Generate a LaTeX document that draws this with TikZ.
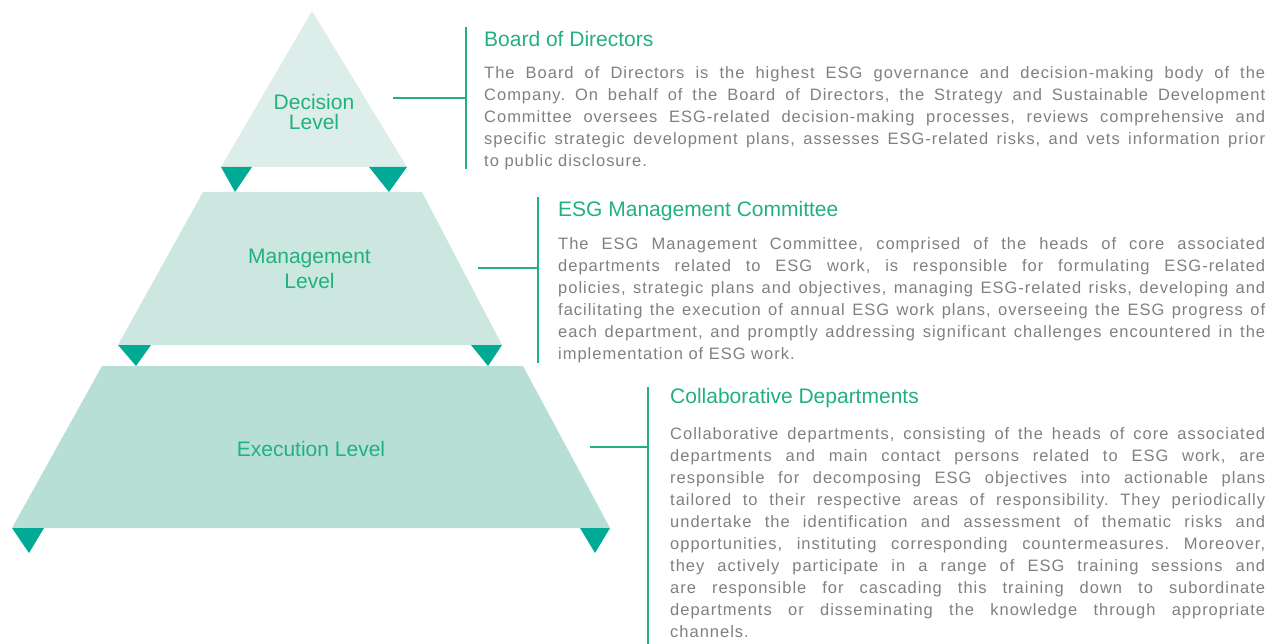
\documentclass[tikz,border=0pt]{standalone}
\usepackage{fontspec}
\setmainfont{Liberation Sans}
\newfontfamily\myBodyFam[LetterSpace=6]{Liberation Sans}
\newcommand\myBodyFont{\myBodyFam\fontsize{16.5}{22}\selectfont\frenchspacing\tolerance=9999\hbadness=10000}
\newcommand\myHeadFont{\fontsize{21}{24}\selectfont}
\definecolor{toneA}{HTML}{DDEEEA}
\definecolor{toneB}{HTML}{CCE7E0}
\definecolor{toneC}{HTML}{B8DFD6}
\definecolor{markc}{HTML}{00AA95}
\definecolor{greenc}{HTML}{21B07F}
\definecolor{grayc}{HTML}{808080}
\tikzset{
  marker/.style={fill=markc},
  lvllabel/.style={text=greenc, align=center, inner sep=0pt},
  conn/.style={draw=greenc, line width=1.2pt},
  heading/.style={anchor=base west, inner sep=0pt, text=greenc, font=\myHeadFont},
  bodytext/.style={anchor=north west, inner sep=0pt, text=grayc, align=justify, font=\myBodyFont},
}
\begin{document}
\begin{tikzpicture}[x=1pt,y=-1pt]
\useasboundingbox (0,0) rectangle (1271,644);
% pyramid tiers
\fill[toneA] (221,167) -- (312,11) -- (407,167) -- cycle;
\fill[toneB] (118,345) -- (203,192) -- (422,192) -- (502,345) -- cycle;
\fill[toneC] (12,528) -- (102,366) -- (523,366) -- (610,528) -- cycle;
% markers
\fill[marker] (221,167) -- (252,167) -- (235,192) -- cycle;
\fill[marker] (369,167) -- (407,167) -- (389,192) -- cycle;
\fill[marker] (118,345) -- (151,345) -- (136,366) -- cycle;
\fill[marker] (471,345) -- (502,345) -- (488,366) -- cycle;
\fill[marker] (12,528) -- (44,528) -- (29,553) -- cycle;
\fill[marker] (580,528) -- (610,528) -- (595,553) -- cycle;
% level labels
\node[lvllabel, font=\fontsize{21}{20}\selectfont] (dec) at (314,112) {Decision\\Level};
\node[lvllabel, font=\fontsize{21}{25}\selectfont] (mgt) at (309.5,269) {Management\\Level};
\node[lvllabel, font=\fontsize{21}{25}\selectfont] (exe) at (311,448.5) {Execution Level};
% connector anchors
\coordinate (decL) at (393,98);
\coordinate (decR) at (466,98);
\coordinate (decT) at (466,27);
\coordinate (decB) at (466,169);
\coordinate (mgtL) at (478,268);
\coordinate (mgtR) at (538,268);
\coordinate (mgtT) at (538,197);
\coordinate (mgtB) at (538,363);
\coordinate (exeL) at (590,447);
\coordinate (exeR) at (648,447);
\coordinate (exeT) at (648,387);
\coordinate (exeB) at (648,644);
\draw[conn] (decL) -- (decR);
\draw[conn] (decT) -- (decB);
\draw[conn] (mgtL) -- (mgtR);
\draw[conn] (mgtT) -- (mgtB);
\draw[conn] (exeL) -- (exeR);
\draw[conn] (exeT) -- (exeB);
% headings
\node[heading] (h1) at (484,46.5) {Board of Directors};
\node[heading] (h2) at (558,216.5) {ESG Management Committee};
\node[heading] (h3) at (670,403.5) {Collaborative Departments};
% bodies
\node[bodytext, text width=781pt] (b1) at (484,66) {The Board of Directors is the highest ESG governance and decision-making body of the\linebreak
Company. On behalf of the Board of Directors, the Strategy and Sustainable Development\linebreak
Committee oversees ESG-related decision-making processes, reviews comprehensive and\linebreak
specific strategic development plans, assesses ESG-related risks, and vets information prior\linebreak
to public disclosure.};
\node[bodytext, text width=707pt] (b2) at (558,237) {The ESG Management Committee, comprised of the heads of core associated\linebreak
departments related to ESG work, is responsible for formulating ESG-related\linebreak
policies, strategic plans and objectives, managing ESG-related risks, developing and\linebreak
facilitating the execution of annual ESG work plans, overseeing the ESG progress of\linebreak
each department, and promptly addressing significant challenges encountered in the\linebreak
implementation of ESG work.};
\node[bodytext, text width=595pt] (b3) at (670,427) {Collaborative departments, consisting of the heads of core associated\linebreak
departments and main contact persons related to ESG work, are\linebreak
responsible for decomposing ESG objectives into actionable plans\linebreak
tailored to their respective areas of responsibility. They periodically\linebreak
undertake the identification and assessment of thematic risks and\linebreak
opportunities, instituting corresponding countermeasures. Moreover,\linebreak
they actively participate in a range of ESG training sessions and\linebreak
are responsible for cascading this training down to subordinate\linebreak
departments or disseminating the knowledge through appropriate\linebreak
channels.};
\end{tikzpicture}
\end{document}
